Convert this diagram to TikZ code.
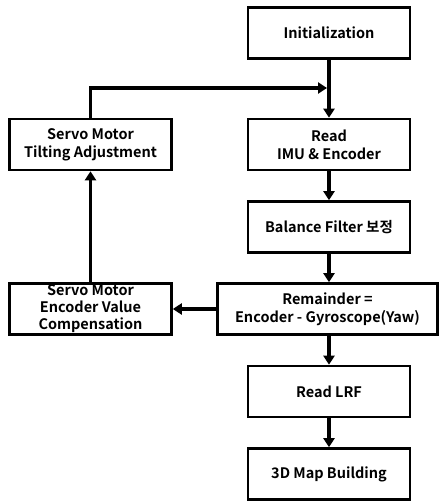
\documentclass[tikz,border=0pt]{standalone}
\usepackage{fontspec}
\setmainfont{Noto Sans CJK KR}[BoldFont={* Bold}]
\usetikzlibrary{arrows.meta}
\begin{document}
\begin{tikzpicture}[x=1pt,y=-1pt,
  box/.style={draw,line width=2.6pt,minimum width=162pt,minimum height=51pt,align=center,inner sep=0pt,
     font=\fontsize{14.5}{18}\selectfont\bfseries},
  arr/.style={line width=3.2pt,-{Triangle[length=9pt,width=11pt]}}]
\useasboundingbox (0,0) rectangle (439,502);
\node[box] (init) at (329,33) {Initialization};
\node[box] (read) at (329,144.5) {Read\\IMU \& Encoder};
\node[box] (bal) at (329,227) {Balance Filter 보정};
\node[box,minimum width=220pt] (rem) at (327.5,309) {Remainder =\\Encoder - Gyroscope(Yaw)};
\node[box] (lrf) at (329,391.5) {Read LRF};
\node[box] (map) at (329,474) {3D Map Building};
\node[box] (tilt) at (90.5,144.5) {Servo Motor\\Tilting Adjustment};
\node[box,font=\fontsize{14.5}{17}\selectfont\bfseries] (enc) at (90.5,309) {Servo Motor\\Encoder Value\\Compensation};
\coordinate (m) at (327,88);
\draw[arr] (init) -- (read);
\draw[arr] (read) -- (bal);
\draw[arr] (bal) -- (rem.north -| bal);
\draw[arr] (rem.south -| lrf) -- (lrf);
\draw[arr] (lrf) -- (map);
\draw[arr] (rem.west |- enc) -- (enc.east);
\draw[arr] (enc) -- (tilt);
\draw[arr] (tilt.north) |- (m);
\end{tikzpicture}
\end{document}
